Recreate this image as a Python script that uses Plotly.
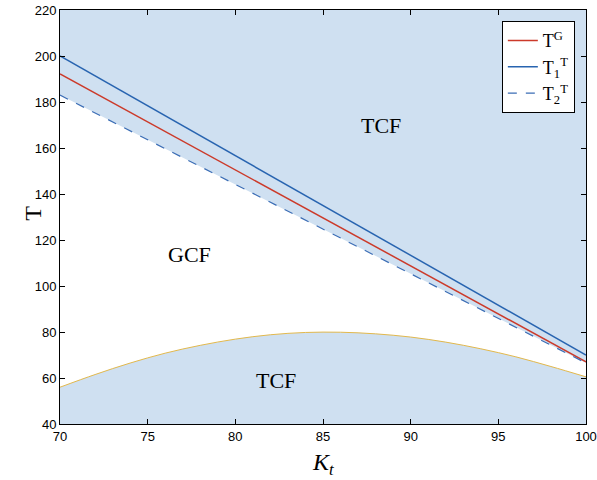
import plotly.graph_objects as go

# Data
kt_line = [70, 100]
t_g = [192.2, 67.0]          # T^G (red)
t1_t = [200.0, 70.0]         # T_1^T (solid blue)
t2_t = [183.0, 66.5]         # T_2^T (dashed blue)

kt_curve = [70, 72, 74, 76, 78, 80, 82, 84, 86, 88, 90, 92, 94, 96, 98, 100]
t_curve = [56.0, 61.5, 66.5, 70.8, 74.2, 76.9, 78.8, 79.8, 79.9, 79.2, 77.8, 75.6, 72.7, 69.2, 65.0, 60.5]

labels = ["TCF", "GCF", "TCF"]
label_x = [88.3, 77.4, 82.3]
label_y = [170, 113.5, 59]

x_ticks = [70, 75, 80, 85, 90, 95, 100]
y_ticks = [40, 60, 80, 100, 120, 140, 160, 180, 200, 220]

BG = "#cfe0f1"
RED = "#cc3a2a"
BLUE = "#2864b0"
DBLUE = "#3b6db5"
YEL = "#e2b84c"
SERIF = "Liberation Serif, Times New Roman, serif"
SANS = "Liberation Sans, Arial, sans-serif"

fig = go.Figure()

# White GCF region between lower curve and dashed line
fig.add_trace(go.Scatter(x=kt_curve, y=t_curve, mode="lines", line=dict(width=0, shape="spline"),
                         showlegend=False, hoverinfo="skip"))
fig.add_trace(go.Scatter(x=kt_line, y=t2_t, mode="lines", line=dict(width=0),
                         fill="tonexty", fillcolor="white", showlegend=False, hoverinfo="skip"))

# Visible lines
fig.add_trace(go.Scatter(x=kt_curve, y=t_curve, mode="lines", line=dict(color=YEL, width=1, shape="spline"),
                         showlegend=False))
fig.add_trace(go.Scatter(x=kt_line, y=t_g, mode="lines", line=dict(color=RED, width=1.5),
                         name="T<sup>G</sup>"))
fig.add_trace(go.Scatter(x=kt_line, y=t1_t, mode="lines", line=dict(color=BLUE, width=1.5),
                         name="T<sub>1</sub><sup>T</sup>"))
fig.add_trace(go.Scatter(x=kt_line, y=t2_t, mode="lines", line=dict(color=DBLUE, width=1.2, dash="dash"),
                         name="T<sub>2</sub><sup>T</sup>"))

for txt, lx, ly in zip(labels, label_x, label_y):
    fig.add_annotation(x=lx, y=ly, text=txt, showarrow=False,
                       font=dict(family=SERIF, size=22, color="black"))

# Axis titles
fig.add_annotation(xref="paper", yref="paper", x=-0.08, y=0.51, text="T", showarrow=False,
                   textangle=-90, font=dict(family=SERIF, size=24, color="black"))
fig.add_annotation(xref="paper", yref="paper", x=0.5, y=-0.055, yanchor="top",
                   text="<i>K</i><sub><i>t</i></sub>",
                   showarrow=False, font=dict(family=SERIF, size=24, color="black"))

axis_common = dict(showline=True, linecolor="black", linewidth=1, mirror="ticks",
                   ticks="inside", ticklen=5, tickcolor="black", showgrid=False, zeroline=False,
                   automargin=False,
                   tickfont=dict(family=SANS, size=13, color="black"))

fig.update_layout(
    width=597, height=480,
    margin=dict(l=60, r=11, t=10, b=56),
    paper_bgcolor="white", plot_bgcolor=BG,
    xaxis=dict(range=[70, 100], tickvals=x_ticks, ticktext=[str(v) for v in x_ticks], **axis_common),
    yaxis=dict(range=[40, 220], tickvals=y_ticks, ticktext=[str(v) for v in y_ticks], **axis_common),
    legend=dict(x=0.84, y=0.973, xanchor="left", yanchor="top", bgcolor="white",
                bordercolor="black", borderwidth=1, traceorder="normal",
                font=dict(family=SERIF, size=18, color="black"),
                tracegroupgap=0, itemwidth=30),
    showlegend=True,
)

fig.write_html("out.html", config={"displayModeBar": False},
               post_script="document.body.style.margin='0px';")
